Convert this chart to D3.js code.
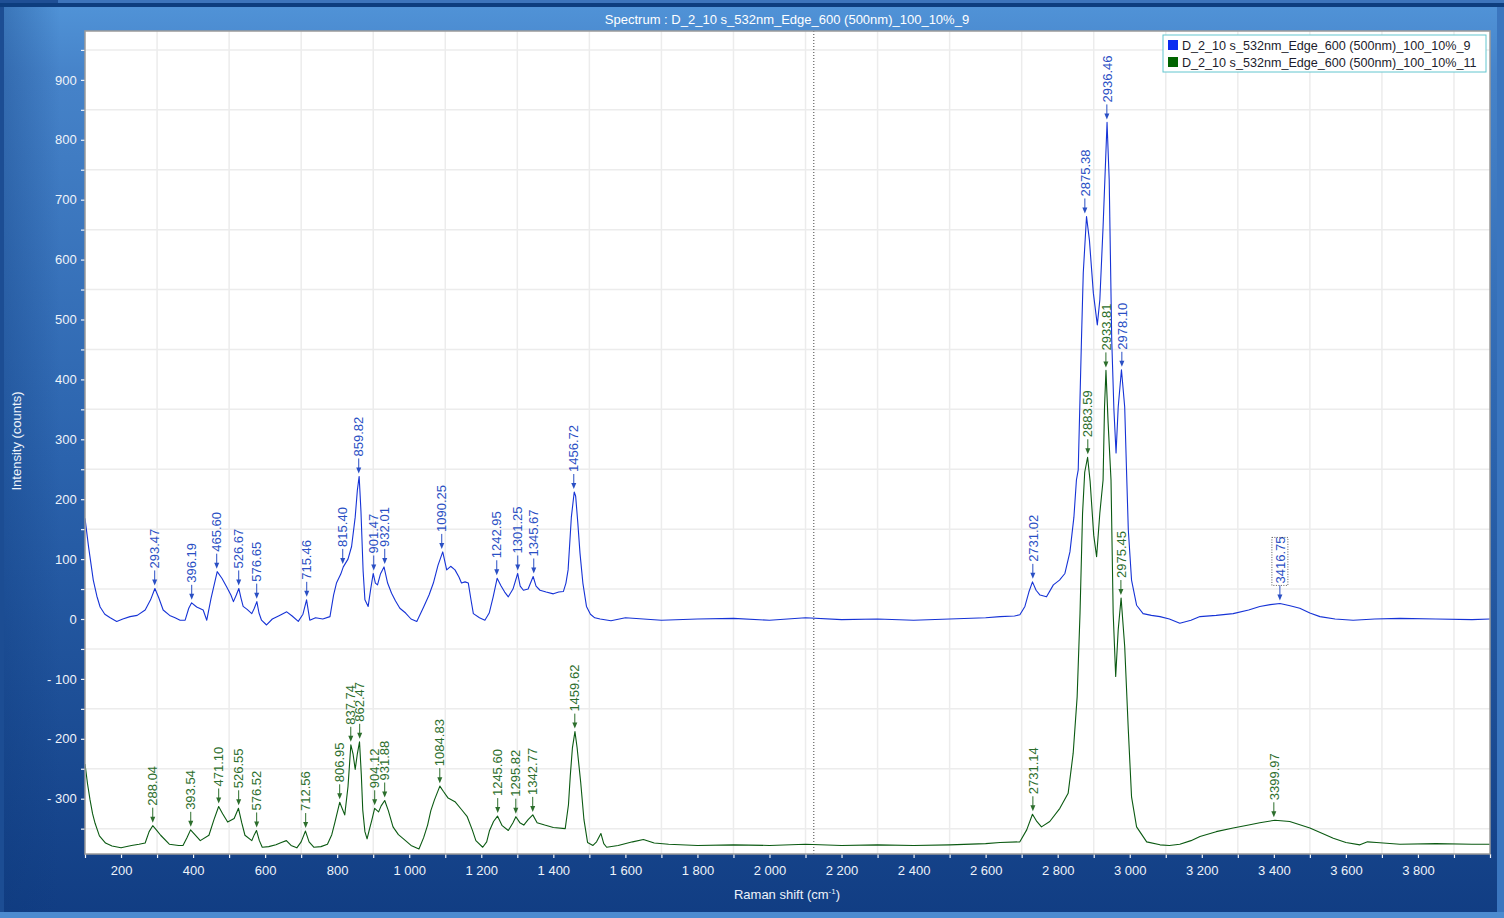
<!DOCTYPE html>
<html><head><meta charset="utf-8">
<script src="https://cdn.jsdelivr.net/npm/d3@7"></script>
<style>
html,body{margin:0;padding:0;background:#1a4a90;overflow:hidden;}
svg{display:block;font-family:"Liberation Sans",Arial,sans-serif;}
</style></head>
<body>
<svg id="c" width="1504" height="918"></svg>
<script>
// ---- data ----
const titleText = "Spectrum : D_2_10 s_532nm_Edge_600 (500nm)_100_10%_9";
const seriesNames = ["D_2_10 s_532nm_Edge_600 (500nm)_100_10%_9", "D_2_10 s_532nm_Edge_600 (500nm)_100_10%_11"];
const seriesColors = ["#1633d6", "#0b5a12"];
const legendColors = ["#0a2cf0", "#006400"];
const labelColors = ["#2a4fc4", "#2c6e2c"];

const xTicks = [200,400,600,800,1000,1200,1400,1600,1800,2000,2200,2400,2600,2800,3000,3200,3400,3600,3800];
const yTicks = [-300,-200,-100,0,100,200,300,400,500,600,700,800,900];

const blueX = [100,110,123,133,142,155,170,188,205,225,245,267,282,294,305,317,335,350,364,378,388,396,410,428,438,450,467,480,493,505,512,520,527,533,539,550,563,570,577,583,590,604,620,640,660,675,692,705,715,724,740,760,780,790,798,810,817,830,840,850,856,861,866,872,877,886,893,900,906,912,920,930,940,951,962,974,990,1005,1021,1040,1055,1067,1080,1093,1104,1115,1127,1138,1145,1155,1164,1172,1178,1195,1210,1222,1233,1244,1255,1265,1275,1288,1301,1308,1317,1330,1344,1352,1363,1380,1400,1415,1428,1435,1441,1450,1458,1462,1468,1474,1482,1492,1503,1515,1530,1560,1600,1650,1700,1800,1900,2000,2100,2200,2300,2400,2500,2600,2640,2680,2695,2709,2720,2730,2740,2751,2769,2788,2805,2820,2834,2845,2852,2857,2866,2871,2880,2888,2899,2910,2917,2926,2937,2943,2950,2956,2962,2968,2977,2986,2991,2996,3005,3019,3037,3060,3084,3110,3139,3170,3195,3240,3287,3330,3361,3390,3417,3445,3472,3500,3528,3570,3620,3680,3750,3850,3950,4000];
const blueY = [168,120,65,38,20,8,2,-4,0,4,6,15,32,51,35,15,6,2,-2,-2,18,27,20,15,-2,35,79,68,54,40,29,40,51,35,21,16,9,18,29,10,-2,-10,0,6,12,5,-4,8,32,-2,2,0,4,40,60,75,87,100,121,170,215,238,180,80,32,21,50,76,60,57,75,87,60,43,30,18,10,0,-4,20,40,60,90,112,82,88,82,70,60,62,60,30,9,2,-2,10,37,68,55,45,37,50,76,55,48,50,71,55,48,45,42,45,46,60,82,170,212,205,160,110,60,21,8,2,0,-3,2,0,-2,0,1,-2,2,-1,0,-2,0,2,4,5,7,21,45,62,48,40,37,57,65,76,112,170,232,249,466,578,672,633,544,491,533,655,829,733,466,350,277,354,416,354,249,149,65,23,9,6,4,0,-7,-2,4,6,9,15,21,24,26,22,18,10,4,0,-2,0,1,0,-1,0];

const greenX = [100,107,114,121,128,140,157,175,200,229,250,267,278,288,298,310,334,360,372,383,393,405,420,444,458,471,482,496,514,526,535,544,563,570,576,584,592,610,630,645,659,672,688,700,712,722,735,755,773,785,793,807,815,821,830,838,844,850,856,862,867,871,877,883,890,896,904,915,922,932,942,955,970,984,1005,1027,1040,1051,1060,1070,1085,1095,1108,1127,1145,1161,1175,1185,1204,1215,1223,1234,1245,1258,1275,1288,1296,1307,1318,1330,1343,1355,1376,1400,1433,1442,1447,1453,1460,1466,1476,1485,1495,1510,1520,1532,1540,1548,1580,1620,1650,1680,1720,1800,1900,2000,2100,2200,2300,2400,2500,2600,2640,2695,2714,2730,2742,2755,2778,2806,2829,2843,2854,2862,2869,2875,2883,2890,2900,2908,2917,2926,2930,2934,2940,2948,2954,2961,2968,2976,2986,2996,3005,3019,3047,3084,3110,3139,3170,3195,3240,3287,3330,3361,3403,3444,3470,3500,3535,3565,3600,3639,3660,3685,3750,3850,3950,4000];
const greenY = [-242,-275,-302,-325,-341,-362,-374,-379,-382,-378,-376,-374,-355,-345,-352,-361,-376,-378,-378,-365,-352,-360,-370,-361,-335,-313,-325,-339,-333,-316,-340,-361,-370,-360,-353,-370,-381,-380,-377,-373,-370,-378,-382,-372,-354,-372,-381,-380,-376,-360,-341,-306,-318,-327,-280,-210,-225,-251,-225,-205,-260,-319,-355,-367,-350,-336,-316,-322,-312,-303,-320,-347,-360,-367,-378,-384,-365,-344,-320,-302,-279,-288,-299,-305,-318,-330,-352,-370,-381,-372,-353,-338,-329,-345,-353,-340,-330,-340,-344,-335,-327,-340,-344,-348,-350,-310,-262,-215,-188,-215,-273,-335,-373,-378,-372,-358,-375,-381,-378,-372,-368,-374,-376,-378,-377,-378,-376,-378,-377,-378,-377,-375,-373,-372,-352,-326,-338,-347,-338,-316,-291,-224,-130,10,176,245,270,230,140,104,177,232,354,415,327,232,10,-96,-18,35,-46,-185,-297,-347,-372,-377,-378,-376,-370,-363,-355,-349,-344,-340,-336,-338,-343,-349,-358,-366,-373,-377,-372,-373,-376,-375,-376,-376];

const bluePeakX = [293.47,396.19,465.60,526.67,576.65,715.46,815.40,859.82,901.47,932.01,1090.25,1242.95,1301.25,1345.67,1456.72,2731.02,2875.38,2936.46,2978.10,3416.75];
const bluePeakY = [51,27,79,51,29,32,87,238,76,87,112,68,76,71,212,62,672,829,416,26];
const greenPeakX = [288.04,393.54,471.10,526.55,576.52,712.56,806.95,837.74,862.47,904.12,931.88,1084.83,1245.60,1295.82,1342.77,1459.62,2731.14,2883.59,2933.81,2975.45,3399.97];
const greenPeakY = [-345,-352,-313,-316,-353,-354,-306,-210,-205,-316,-303,-279,-329,-330,-327,-188,-326,270,415,35,-336];
const selectedPeak = 3416.75;
const cursorX = 2123;

// ---- layout ----
const W = 1504, H = 918;
const L = 85, R = 1490, T = 31, B = 854;
const FS = 13;
const svg = d3.select("#c");

const defs = svg.append("defs");
const g1 = defs.append("linearGradient").attr("id","bg").attr("x1",0).attr("y1",0).attr("x2",0).attr("y2",1);
g1.append("stop").attr("offset","0%").attr("stop-color","#5194d8");
g1.append("stop").attr("offset","8%").attr("stop-color","#4683c9");
g1.append("stop").attr("offset","50%").attr("stop-color","#2b63ad");
g1.append("stop").attr("offset","100%").attr("stop-color","#113d83");
const g2 = defs.append("linearGradient").attr("id","bgl").attr("x1",0).attr("y1",0).attr("x2",1).attr("y2",0);
g2.append("stop").attr("offset","0%").attr("stop-color","#0e3a7c").attr("stop-opacity",0.35);
g2.append("stop").attr("offset","100%").attr("stop-color","#0e3a7c").attr("stop-opacity",0);
defs.append("clipPath").attr("id","clip").append("rect").attr("x",L).attr("y",T).attr("width",R-L).attr("height",B-T);

svg.append("rect").attr("width",W).attr("height",H).attr("fill","url(#bg)");
svg.append("rect").attr("x",0).attr("y",0).attr("width",60).attr("height",H).attr("fill","url(#bgl)");
// window chrome strips
svg.append("rect").attr("x",0).attr("y",0).attr("width",W).attr("height",3).attr("fill","#3d74bb");
svg.append("rect").attr("x",0).attr("y",0).attr("width",58).attr("height",3).attr("fill","#1f4f95");
svg.append("rect").attr("x",0).attr("y",3).attr("width",W).attr("height",4).attr("fill","#0d3d7e");
svg.append("rect").attr("x",0).attr("y",7).attr("width",4).attr("height",H-7).attr("fill","#1c4d93");
svg.append("rect").attr("x",1497).attr("y",7).attr("width",7).attr("height",H-7).attr("fill","#3b76bf");
svg.append("rect").attr("x",0).attr("y",912).attr("width",W).attr("height",6).attr("fill","#4c8bd0");

// title
svg.append("text").attr("x",787).attr("y",24).attr("text-anchor","middle")
  .attr("fill","#ffffff").attr("font-size",FS).text(titleText);

// scales
const x = d3.scaleLinear().domain([100,4000]).range([L,R]);
const y = d3.scaleLinear().domain([-392.3,981.6]).range([B,T]);

// plot background
svg.append("rect").attr("x",L).attr("y",T).attr("width",R-L).attr("height",B-T).attr("fill","#ffffff");

// grid (at intermediate positions like the reference)
const gridX = d3.range(300,4000,200);
const gridY = d3.range(-350,981,100);
svg.append("g").selectAll("line").data(gridX).join("line")
  .attr("x1",d=>x(d)).attr("x2",d=>x(d)).attr("y1",T).attr("y2",B)
  .attr("stroke","#ececec").attr("stroke-width",1.5);
svg.append("g").selectAll("line").data(gridY).join("line")
  .attr("x1",L).attr("x2",R).attr("y1",d=>y(d)).attr("y2",d=>y(d))
  .attr("stroke","#ececec").attr("stroke-width",1.5);

// cursor line
svg.append("line").attr("x1",x(cursorX)).attr("x2",x(cursorX)).attr("y1",T).attr("y2",B)
  .attr("stroke","#444").attr("stroke-width",1).attr("stroke-dasharray","1,2");

// axes
const fmtX = d => d>=1000 ? Math.floor(d/1000)+" "+String(d%1000).padStart(3,"0") : String(d);
const fmtY = d => d<0 ? "- "+(-d) : String(d);
const xAxis = d3.axisBottom(x).tickValues(d3.range(100,4001,100)).tickSize(4).tickSizeOuter(0)
  .tickFormat(d => xTicks.includes(d) ? fmtX(d) : "");
const yAxis = d3.axisLeft(y).tickValues(d3.range(-350,951,50)).tickSize(4).tickSizeOuter(0)
  .tickFormat(d => yTicks.includes(d) ? fmtY(d) : "");
const gx = svg.append("g").attr("transform",`translate(0,${B})`).call(xAxis);
const gy = svg.append("g").attr("transform",`translate(${L},0)`).call(yAxis);
[gx,gy].forEach(g=>{
  g.select(".domain").remove();
  g.selectAll(".tick line").attr("stroke","#f0f4fa").attr("stroke-width",1.2);
  g.selectAll(".tick text").attr("fill","#eef3fa").attr("font-size",FS)
   .attr("font-family","Liberation Sans, Arial, sans-serif");
});
gx.selectAll(".tick text").attr("dy","1.1em");
gy.selectAll(".tick text").attr("dx","-0.1em");

// axis titles
svg.append("text").attr("x",787).attr("y",899).attr("text-anchor","middle")
  .attr("fill","#eef3fa").attr("font-size",FS).html("Raman shift (cm<tspan dy='-5' font-size='8'>-1</tspan><tspan dy='5'>)</tspan>");
svg.append("text").attr("transform","translate(21,441) rotate(-90)").attr("text-anchor","middle")
  .attr("fill","#eef3fa").attr("font-size",FS).text("Intensity (counts)");

// spectra
const plot = svg.append("g").attr("clip-path","url(#clip)");
const line = d3.line().x(d=>x(d[0])).y(d=>y(d[1]));
const blueData = blueX.map((v,i)=>[v,blueY[i]]);
const greenData = greenX.map((v,i)=>[v,greenY[i]]);
plot.append("path").datum(greenData).attr("d",line).attr("fill","none")
  .attr("stroke",seriesColors[1]).attr("stroke-width",1.1).attr("stroke-linejoin","round");
plot.append("path").datum(blueData).attr("d",line).attr("fill","none")
  .attr("stroke",seriesColors[0]).attr("stroke-width",1.1).attr("stroke-linejoin","round");

// peak labels
function peakLabels(px, py, color){
  const g = svg.append("g");
  px.forEach((pv,i)=>{
    const cx = x(pv), tip = y(py[i]) - 3;
    g.append("line").attr("x1",cx).attr("x2",cx).attr("y1",tip-15).attr("y2",tip-5)
      .attr("stroke",color).attr("stroke-width",1);
    g.append("path").attr("d",`M${cx-2.5},${tip-6}L${cx+2.5},${tip-6}L${cx},${tip}Z`).attr("fill",color);
    g.append("text").attr("transform",`translate(${cx},${tip-17}) rotate(-90)`)
      .attr("dy","0.36em").attr("text-anchor","start").attr("fill",color)
      .attr("font-size",FS).text(pv.toFixed(2));
    if (pv === selectedPeak){
      g.append("rect").attr("x",cx-8).attr("y",tip-17-46).attr("width",16).attr("height",48)
        .attr("fill","none").attr("stroke","#333").attr("stroke-width",0.8).attr("stroke-dasharray","1,1.5");
    }
  });
}
peakLabels(bluePeakX, bluePeakY, labelColors[0]);
peakLabels(greenPeakX, greenPeakY, labelColors[1]);

// plot border
svg.append("rect").attr("x",L).attr("y",T).attr("width",R-L).attr("height",B-T)
  .attr("fill","none").attr("stroke","#9a9a9a").attr("stroke-width",1.5);

// legend
const lg = svg.append("g");
lg.append("rect").attr("x",1163).attr("y",35).attr("width",323).attr("height",37)
  .attr("fill","#ffffff").attr("stroke","#62c6cf").attr("stroke-width",1);
seriesNames.forEach((n,i)=>{
  lg.append("rect").attr("x",1168).attr("y",40+i*17).attr("width",10).attr("height",10).attr("fill",legendColors[i]);
  lg.append("text").attr("x",1182).attr("y",49.5+i*17).attr("fill","#1c1c2c").attr("font-size",12.6).text(n);
});
</script>
</body></html>
